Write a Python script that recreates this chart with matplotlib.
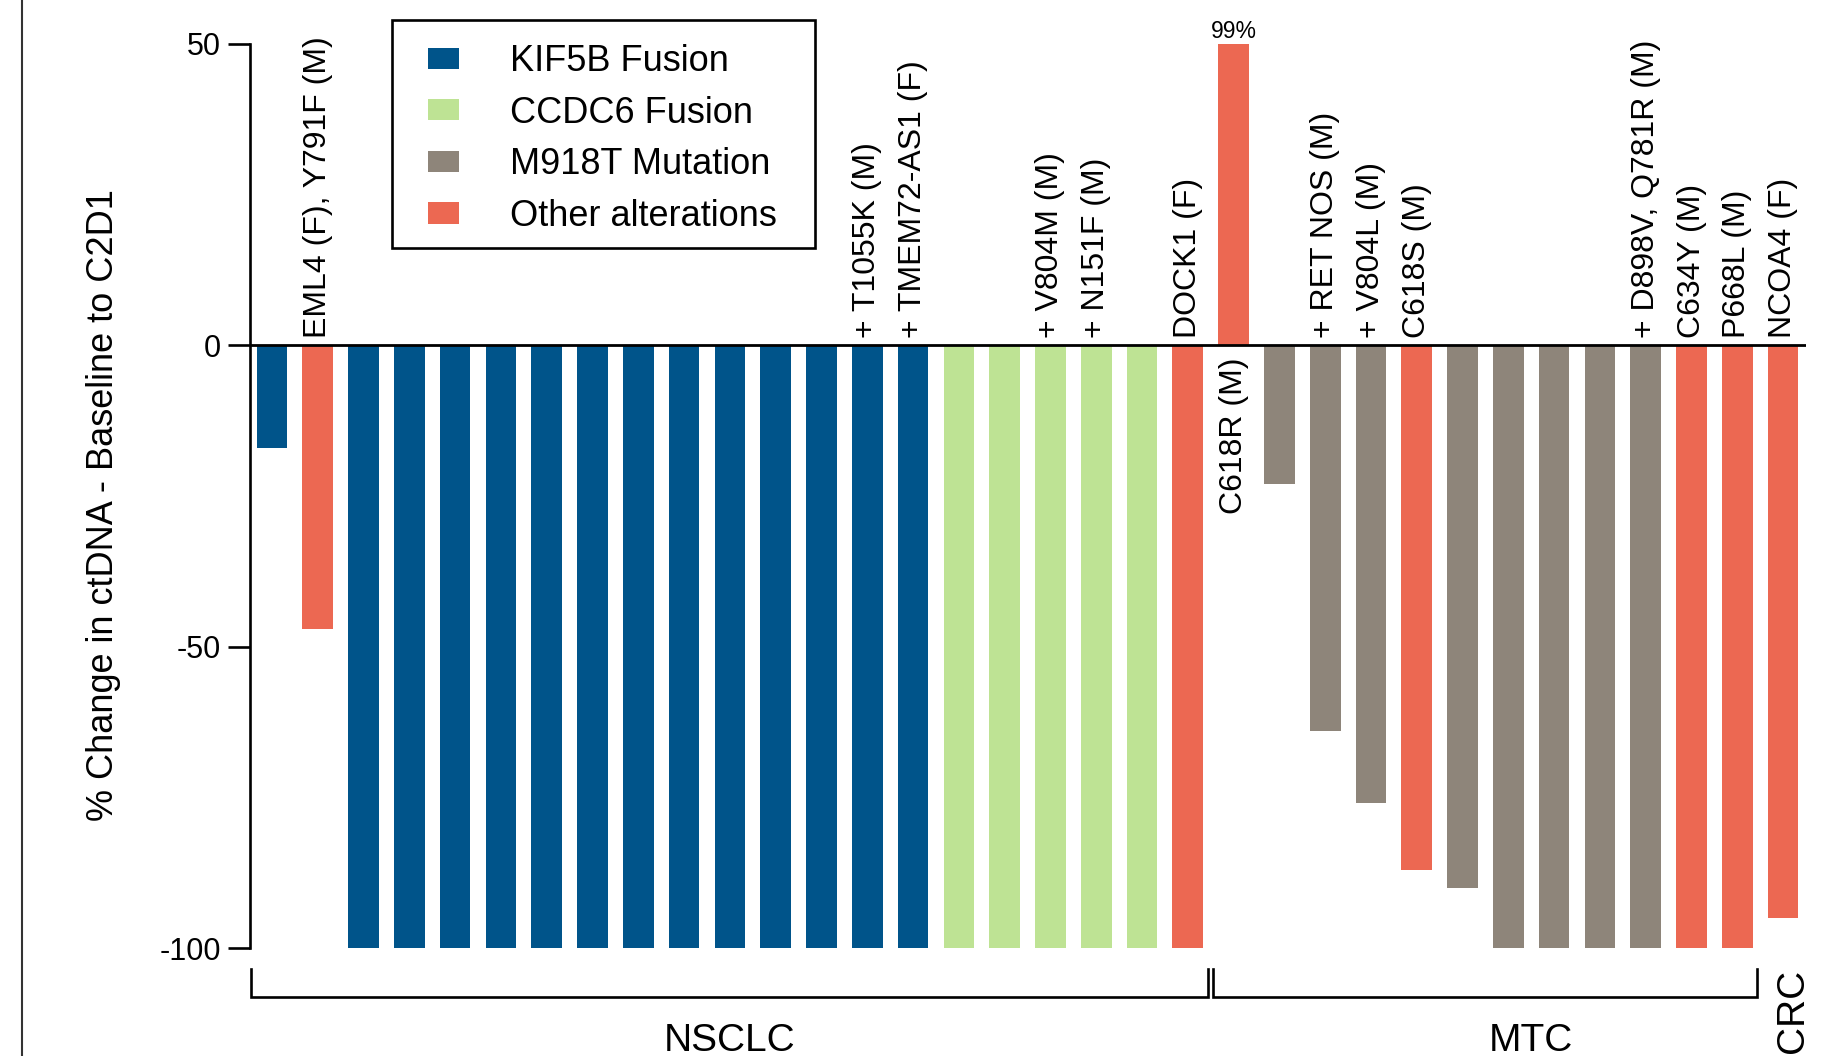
import matplotlib
matplotlib.use("Agg")
import matplotlib.pyplot as plt
from matplotlib.patches import Patch, Rectangle
from matplotlib.lines import Line2D

plt.rcParams['font.family'] = ['Liberation Sans', 'DejaVu Sans']
plt.rcParams['axes.unicode_minus'] = False

# ctDNA change per patient, in plotted order
values = [-17, -47,
          -100, -100, -100, -100, -100, -100, -100, -100, -100, -100, -100, -100, -100,
          -100, -100, -100, -100, -100,
          -100,
          99, -23, -64, -76, -87, -90, -100, -100, -100, -100, -100, -100,
          -95]
kinds = ["KIF5B", "other"] + ["KIF5B"] * 13 + ["CCDC6"] * 5 + ["other"] \
    + ["other", "M918T", "M918T", "M918T", "other", "M918T", "M918T", "M918T", "M918T", "M918T",
       "other", "other"] + ["other"]
labels = ["", "EML4 (F), Y791F (M)",
          "", "", "", "", "", "", "", "", "", "", "", "+ T1055K (M)", "+ TMEM72-AS1 (F)",
          "", "", "+ V804M (M)", "+ N151F (M)", "",
          "DOCK1 (F)",
          "C618R (M)", "", "+ RET NOS (M)", "+ V804L (M)", "C618S (M)", "", "", "", "",
          "+ D898V, Q781R (M)", "C634Y (M)", "P668L (M)",
          "NCOA4 (F)"]

legend_names = ["KIF5B Fusion", "CCDC6 Fusion", "M918T Mutation", "Other alterations"]
legend_keys = ["KIF5B", "CCDC6", "M918T", "other"]
palette = {"KIF5B": "#00548A", "CCDC6": "#BEE394", "M918T": "#8E857A", "other": "#EC6852"}

# tumour type groups: (name, first bar, last bar)
groups = [("NSCLC", 0, 20), ("MTC", 21, 32), ("CRC", 33, 33)]

yticks = [-100, -50, 0, 50]
ymin, ymax = -100, 50

W, H = 1825, 1056
fig = plt.figure(figsize=(W / 100, H / 100), dpi=100)
ax = fig.add_axes([250 / W, 1 - 948 / H, (1806 - 250) / W, (948 - 44) / H])

x = list(range(len(values)))
ax.bar(x, values, width=0.67, color=[palette[k] for k in kinds], zorder=2)
ax.axhline(0, color="black", lw=2, zorder=3)

ax.set_xlim(-0.48, len(values) - 0.5)
ax.set_ylim(ymin, ymax)
ax.set_yticks(yticks)
ax.set_yticklabels([str(t) for t in yticks])
ax.tick_params(axis="y", length=16, width=1.9, labelsize=22, pad=5)
ax.set_xticks([])
for s in ["top", "right", "bottom"]:
    ax.spines[s].set_visible(False)
ax.spines["left"].set_linewidth(1.9)

fig.text(104 / W, 1 - 505 / H, "% Change in ctDNA - Baseline to C2D1",
         rotation=90, ha="center", va="center", fontsize=26)

for i, (v, lab) in enumerate(zip(values, labels)):
    if lab:
        if v > 0:
            ax.annotate(lab, (i, 0), xytext=(0, -9), textcoords="offset points",
                        rotation=90, ha="center", va="top", fontsize=23)
        else:
            ax.annotate(lab, (i, 0), xytext=(0, 5), textcoords="offset points",
                        rotation=90, ha="center", va="bottom", fontsize=23)
    if v > ymax:
        ax.annotate(f"{v:.0f}%", (i, ymax), xytext=(0, 1), textcoords="offset points",
                    ha="center", va="bottom", fontsize=16.5, annotation_clip=False)

# group brackets under the bars
y_line, y_tick, y_text = -108.1, -103.5, -117.1
for name, a, b in groups:
    if a == b:
        ax.text(b + 0.22, y_tick, name, rotation=90, ha="center", va="top", fontsize=28,
                clip_on=False)
        continue
    x0, x1 = a - 0.46, b + 0.44
    ax.plot([x0, x0, x1, x1], [y_tick, y_line, y_line, y_tick], color="black", lw=1.9,
            clip_on=False, solid_joinstyle="miter")
    xc = (a + b) / 2 + (1.0 if name == "MTC" else 0)
    ax.text(xc, y_text, name, ha="center", va="baseline", fontsize=28, clip_on=False)

# legend entries without frame, box drawn separately
handles = [Patch(facecolor=palette[k], edgecolor="none", label=n)
           for k, n in zip(legend_keys, legend_names)]
leg = ax.legend(handles=handles, loc="upper left", bbox_to_anchor=(428 / W, 1 - 44 / H),
                bbox_transform=fig.transFigure, borderaxespad=0, borderpad=0, fontsize=26,
                frameon=False, handlelength=0.86, handleheight=0.53, handletextpad=1.4,
                labelspacing=0.46)
fig.add_artist(Rectangle((392 / W, 1 - 248 / H), 423 / W, 228 / H, transform=fig.transFigure,
                         fill=False, edgecolor="black", lw=1.9))

fig.add_artist(Line2D([22 / W, 22 / W], [0, 1], transform=fig.transFigure,
                      color="#333333", lw=1.5))

fig.savefig("out.png", dpi=100)
